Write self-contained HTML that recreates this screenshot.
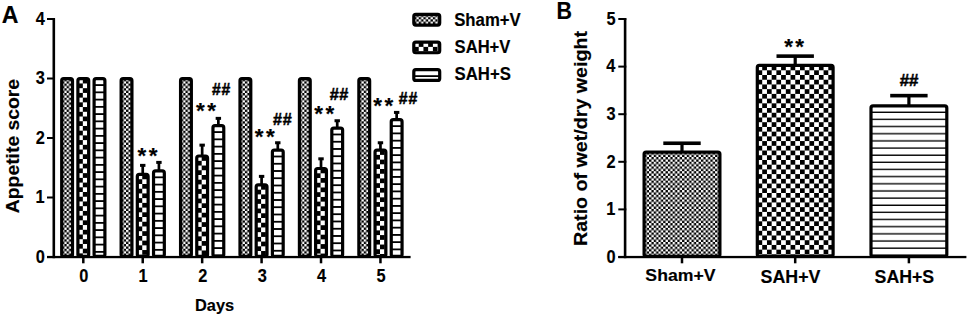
<!DOCTYPE html><html><head><meta charset="utf-8"><style>
html,body{margin:0;padding:0;background:#fff;width:969px;height:317px;overflow:hidden}
svg{display:block}
text{font-family:"Liberation Sans", sans-serif;font-weight:bold;fill:#000;stroke:#000;stroke-width:0.15px}
</style></head><body>
<svg width="969" height="317" viewBox="0 0 969 317">
<defs>
<pattern id="pSham" patternUnits="userSpaceOnUse" x="1.8" y="1.8" width="4.72" height="4.72"><rect width="4.72" height="4.72" fill="#000"/><rect width="2.36" height="2.36" fill="#fff"/><rect x="2.36" y="2.36" width="2.36" height="2.36" fill="#fff"/></pattern>
<pattern id="pSahV" patternUnits="userSpaceOnUse" width="9.44" height="9.44" x="1.8" y="1.7"><rect width="9.44" height="9.44" fill="#000"/><rect width="4.72" height="4.72" fill="#fff"/><rect x="4.72" y="4.72" width="4.72" height="4.72" fill="#fff"/></pattern>
<pattern id="pSahSA" patternUnits="userSpaceOnUse" width="20" height="7.25" y="1.7"><rect width="20" height="7.25" fill="#fff"/><rect y="5.45" width="20" height="1.8" fill="#000"/></pattern>
<pattern id="pSahSB" patternUnits="userSpaceOnUse" width="20" height="7.15" y="1.5"><rect width="20" height="7.15" fill="#fff"/><rect y="5.8" width="20" height="1.35" fill="#000"/></pattern>
</defs>
<g transform="translate(60.10,77.05)"><rect x="1.6" y="1.6" width="10.80" height="177.75" rx="2.0" fill="url(#pSham)" stroke="#000" stroke-width="3.2"/></g>
<g transform="translate(76.30,77.05)"><rect x="1.6" y="1.6" width="10.80" height="177.75" rx="2.0" fill="url(#pSahV)" stroke="#000" stroke-width="3.2"/></g>
<g transform="translate(92.50,77.05)"><rect x="1.6" y="1.6" width="10.80" height="177.75" rx="2.0" fill="url(#pSahSA)" stroke="#000" stroke-width="3.2"/></g>
<g transform="translate(119.53,77.05)"><rect x="1.6" y="1.6" width="10.80" height="177.75" rx="2.0" fill="url(#pSham)" stroke="#000" stroke-width="3.2"/></g>
<rect x="141.38" y="165.37" width="2.7" height="9.93" fill="#000"/>
<rect x="140.03" y="163.87" width="5.4" height="3.0" fill="#000"/>
<g transform="translate(135.73,172.85)"><rect x="1.6" y="1.6" width="10.80" height="81.95" rx="2.0" fill="url(#pSahV)" stroke="#000" stroke-width="3.2"/></g>
<rect x="157.58" y="162.40" width="2.7" height="9.33" fill="#000"/>
<rect x="156.23" y="160.90" width="5.4" height="3.0" fill="#000"/>
<g transform="translate(151.93,169.28)"><rect x="1.6" y="1.6" width="10.80" height="85.52" rx="2.0" fill="url(#pSahSA)" stroke="#000" stroke-width="3.2"/></g>
<g transform="translate(178.96,77.05)"><rect x="1.6" y="1.6" width="10.80" height="177.75" rx="2.0" fill="url(#pSham)" stroke="#000" stroke-width="3.2"/></g>
<rect x="200.81" y="145.14" width="2.7" height="11.71" fill="#000"/>
<rect x="199.46" y="143.64" width="5.4" height="3.0" fill="#000"/>
<g transform="translate(195.16,154.40)"><rect x="1.6" y="1.6" width="10.80" height="100.40" rx="2.0" fill="url(#pSahV)" stroke="#000" stroke-width="3.2"/></g>
<rect x="217.01" y="118.37" width="2.7" height="8.14" fill="#000"/>
<rect x="215.66" y="116.87" width="5.4" height="3.0" fill="#000"/>
<g transform="translate(211.36,124.05)"><rect x="1.6" y="1.6" width="10.80" height="130.75" rx="2.0" fill="url(#pSahSA)" stroke="#000" stroke-width="3.2"/></g>
<g transform="translate(238.39,77.05)"><rect x="1.6" y="1.6" width="10.80" height="177.75" rx="2.0" fill="url(#pSham)" stroke="#000" stroke-width="3.2"/></g>
<rect x="260.24" y="176.38" width="2.7" height="9.33" fill="#000"/>
<rect x="258.89" y="174.88" width="5.4" height="3.0" fill="#000"/>
<g transform="translate(254.59,183.26)"><rect x="1.6" y="1.6" width="10.80" height="71.54" rx="2.0" fill="url(#pSahV)" stroke="#000" stroke-width="3.2"/></g>
<rect x="276.44" y="142.76" width="2.7" height="8.14" fill="#000"/>
<rect x="275.09" y="141.26" width="5.4" height="3.0" fill="#000"/>
<g transform="translate(270.79,148.45)"><rect x="1.6" y="1.6" width="10.80" height="106.35" rx="2.0" fill="url(#pSahSA)" stroke="#000" stroke-width="3.2"/></g>
<g transform="translate(297.82,77.05)"><rect x="1.6" y="1.6" width="10.80" height="177.75" rx="2.0" fill="url(#pSham)" stroke="#000" stroke-width="3.2"/></g>
<rect x="319.67" y="158.82" width="2.7" height="10.52" fill="#000"/>
<rect x="318.32" y="157.32" width="5.4" height="3.0" fill="#000"/>
<g transform="translate(314.02,166.90)"><rect x="1.6" y="1.6" width="10.80" height="87.90" rx="2.0" fill="url(#pSahV)" stroke="#000" stroke-width="3.2"/></g>
<rect x="335.87" y="120.75" width="2.7" height="8.14" fill="#000"/>
<rect x="334.52" y="119.25" width="5.4" height="3.0" fill="#000"/>
<g transform="translate(330.22,126.43)"><rect x="1.6" y="1.6" width="10.80" height="128.37" rx="2.0" fill="url(#pSahSA)" stroke="#000" stroke-width="3.2"/></g>
<g transform="translate(357.25,77.05)"><rect x="1.6" y="1.6" width="10.80" height="177.75" rx="2.0" fill="url(#pSham)" stroke="#000" stroke-width="3.2"/></g>
<rect x="379.10" y="142.76" width="2.7" height="8.14" fill="#000"/>
<rect x="377.75" y="141.26" width="5.4" height="3.0" fill="#000"/>
<g transform="translate(373.45,148.45)"><rect x="1.6" y="1.6" width="10.80" height="106.35" rx="2.0" fill="url(#pSahV)" stroke="#000" stroke-width="3.2"/></g>
<rect x="395.30" y="112.41" width="2.7" height="8.14" fill="#000"/>
<rect x="393.95" y="110.91" width="5.4" height="3.0" fill="#000"/>
<g transform="translate(389.65,118.11)"><rect x="1.6" y="1.6" width="10.80" height="136.69" rx="2.0" fill="url(#pSahSA)" stroke="#000" stroke-width="3.2"/></g>
<rect x="52.5" y="18.2" width="2.6" height="240.0" fill="#000"/>
<rect x="47" y="256.00" width="8" height="2" fill="#000"/>
<rect x="47" y="196.50" width="8" height="2" fill="#000"/>
<rect x="47" y="137.00" width="8" height="2" fill="#000"/>
<rect x="47" y="77.50" width="8" height="2" fill="#000"/>
<rect x="47" y="18.00" width="8" height="2" fill="#000"/>
<rect x="47" y="255.9" width="363.6" height="2.3" fill="#000"/>
<rect x="82.05" y="257.0" width="2.5" height="6.3" fill="#000"/>
<rect x="141.48" y="257.0" width="2.5" height="6.3" fill="#000"/>
<rect x="200.91" y="257.0" width="2.5" height="6.3" fill="#000"/>
<rect x="260.34" y="257.0" width="2.5" height="6.3" fill="#000"/>
<rect x="319.77" y="257.0" width="2.5" height="6.3" fill="#000"/>
<rect x="379.20" y="257.0" width="2.5" height="6.3" fill="#000"/>
<rect x="680.40" y="143.24" width="3.2" height="9.57" fill="#000"/>
<rect x="663.30" y="141.44" width="37.4" height="3.6" fill="#000"/>
<g transform="translate(642.50,150.50)"><rect x="1.6" y="1.6" width="75.80" height="104.30" rx="2.0" fill="url(#pSham)" stroke="#000" stroke-width="3.2"/></g>
<rect x="793.60" y="56.13" width="3.2" height="10.04" fill="#000"/>
<rect x="776.50" y="54.33" width="37.4" height="3.6" fill="#000"/>
<g transform="translate(755.70,63.87)"><rect x="1.6" y="1.6" width="75.80" height="190.93" rx="2.0" fill="url(#pSahV)" stroke="#000" stroke-width="3.2"/></g>
<rect x="907.30" y="95.64" width="3.2" height="11.00" fill="#000"/>
<rect x="890.20" y="93.84" width="37.4" height="3.6" fill="#000"/>
<g transform="translate(869.40,104.33)"><rect x="1.6" y="1.6" width="75.80" height="150.47" rx="2.0" fill="url(#pSahSB)" stroke="#000" stroke-width="3.2"/></g>
<rect x="623.8" y="18.2" width="2.6" height="240.0" fill="#000"/>
<rect x="618.3" y="256.00" width="8" height="2" fill="#000"/>
<rect x="618.3" y="208.40" width="8" height="2" fill="#000"/>
<rect x="618.3" y="160.80" width="8" height="2" fill="#000"/>
<rect x="618.3" y="113.20" width="8" height="2" fill="#000"/>
<rect x="618.3" y="65.60" width="8" height="2" fill="#000"/>
<rect x="618.3" y="18.00" width="8" height="2" fill="#000"/>
<rect x="618.3" y="255.9" width="348.1" height="2.3" fill="#000"/>
<rect x="680.75" y="257.0" width="2.5" height="6.3" fill="#000"/>
<rect x="793.95" y="257.0" width="2.5" height="6.3" fill="#000"/>
<rect x="907.65" y="257.0" width="2.5" height="6.3" fill="#000"/>
<g transform="translate(412.20,12.80)"><rect x="1.6" y="1.6" width="25.90" height="10.70" rx="2.0" fill="url(#pSham)" stroke="#000" stroke-width="3.2"/></g>
<g transform="translate(412.20,40.45)"><rect x="1.6" y="1.6" width="25.90" height="10.70" rx="2.0" fill="url(#pSahV)" stroke="#000" stroke-width="3.2"/></g>
<g transform="translate(412.20,68.10)"><rect x="1.6" y="1.6" width="25.90" height="10.70" rx="2.0" fill="url(#pSahSA)" stroke="#000" stroke-width="3.2"/></g>
<text transform="translate(454.20,25.72) scale(0.954,1)" font-size="17.55">Sham+V</text>
<text transform="translate(454.60,53.32) scale(0.932,1)" font-size="17.81">SAH+V</text>
<text transform="translate(454.60,80.12) scale(0.941,1)" font-size="17.81">SAH+S</text>
<text transform="translate(1.72,23.30) scale(0.994,1)" font-size="23.27">A</text>
<text transform="translate(35.75,262.89) scale(0.910,1)" font-size="18.00">0</text>
<text transform="translate(35.47,203.39) scale(0.910,1)" font-size="18.00">1</text>
<text transform="translate(35.80,143.98) scale(0.910,1)" font-size="18.00">2</text>
<text transform="translate(35.86,84.37) scale(0.910,1)" font-size="18.00">3</text>
<text transform="translate(35.67,24.89) scale(0.910,1)" font-size="18.00">4</text>
<text transform="translate(79.25,282.19) scale(0.910,1)" font-size="18.00">0</text>
<text transform="translate(138.40,282.19) scale(0.910,1)" font-size="18.00">1</text>
<text transform="translate(198.16,282.28) scale(0.910,1)" font-size="18.00">2</text>
<text transform="translate(257.65,282.17) scale(0.910,1)" font-size="18.00">3</text>
<text transform="translate(316.89,282.19) scale(0.910,1)" font-size="18.00">4</text>
<text transform="translate(376.38,282.10) scale(0.910,1)" font-size="18.00">5</text>
<text transform="translate(195.05,311.01) scale(0.945,1)" font-size="17.32">Days</text>
<text transform="translate(18.50,213.18) rotate(-90) scale(1.024,1)" font-size="18.90">Appetite score</text>
<text x="137.54" y="162.87" font-size="22.5">*</text>
<text x="148.74" y="162.87" font-size="22.5">*</text>
<text x="196.04" y="118.17" font-size="22.5">*</text>
<text x="207.24" y="118.17" font-size="22.5">*</text>
<text x="254.74" y="144.27" font-size="22.5">*</text>
<text x="265.94" y="144.27" font-size="22.5">*</text>
<text x="314.34" y="121.47" font-size="22.5">*</text>
<text x="325.54" y="121.47" font-size="22.5">*</text>
<text x="373.34" y="112.87" font-size="22.5">*</text>
<text x="384.54" y="112.87" font-size="22.5">*</text>
<text x="211.92" y="95.30" font-size="15.68" style="stroke-width:0.5px">#</text>
<text x="221.62" y="95.30" font-size="15.68" style="stroke-width:0.5px">#</text>
<text x="273.01" y="125.00" font-size="16.12" style="stroke-width:0.5px">#</text>
<text x="282.69" y="125.00" font-size="16.12" style="stroke-width:0.5px">#</text>
<text x="329.81" y="99.80" font-size="16.27" style="stroke-width:0.5px">#</text>
<text x="339.31" y="99.80" font-size="16.27" style="stroke-width:0.5px">#</text>
<text x="398.72" y="103.50" font-size="15.83" style="stroke-width:0.5px">#</text>
<text x="408.44" y="103.50" font-size="15.83" style="stroke-width:0.5px">#</text>
<text transform="translate(556.45,18.60) scale(0.923,1)" font-size="23.27">B</text>
<text transform="translate(606.45,262.89) scale(0.910,1)" font-size="18.00">0</text>
<text transform="translate(606.17,215.29) scale(0.910,1)" font-size="18.00">1</text>
<text transform="translate(606.50,167.78) scale(0.910,1)" font-size="18.00">2</text>
<text transform="translate(606.56,120.06) scale(0.910,1)" font-size="18.00">3</text>
<text transform="translate(606.37,72.49) scale(0.910,1)" font-size="18.00">4</text>
<text transform="translate(606.43,24.80) scale(0.910,1)" font-size="18.00">5</text>
<text transform="translate(645.37,281.33) scale(1.038,1)" font-size="17.01">Sham+V</text>
<text transform="translate(760.56,283.02) scale(1.018,1)" font-size="17.53">SAH+V</text>
<text transform="translate(874.57,283.02) scale(1.012,1)" font-size="17.53">SAH+S</text>
<text transform="translate(586.60,246.03) rotate(-90) scale(1.063,1)" font-size="18.50">Ratio of wet/dry weight</text>
<text x="784.14" y="53.57" font-size="22.5">*</text>
<text x="795.34" y="53.57" font-size="22.5">*</text>
<text x="899.80" y="85.50" font-size="16.86" style="stroke-width:0.5px">#</text>
<text x="908.99" y="85.50" font-size="16.86" style="stroke-width:0.5px">#</text>
</svg></body></html>
